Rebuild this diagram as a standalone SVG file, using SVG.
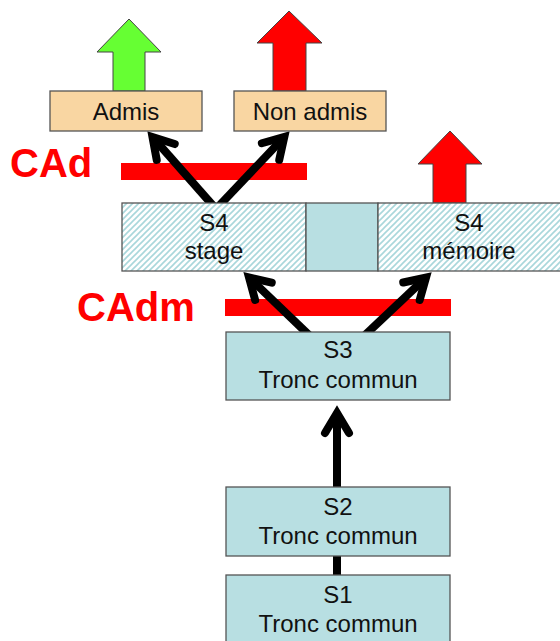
<svg xmlns="http://www.w3.org/2000/svg" width="560" height="641" viewBox="0 0 560 641">
<defs>
<style>
.box{stroke:#555;stroke-width:1.3}
.blue{fill:#B8DFE2}
.beige{fill:#F9D6A2}
.hatch{fill:url(#hatch)}
.t{font-family:"Liberation Sans",Arial,sans-serif;font-size:24px;fill:#111;text-anchor:middle}
.ca{font-family:"Liberation Sans",Arial,sans-serif;font-size:40px;font-weight:bold;fill:#FF0000}
.bar{fill:#FF0000}
.blk{stroke:#444;stroke-width:1}
.line{fill:none;stroke:#000;stroke-width:8}
.conn{fill:none;stroke:#000;stroke-width:8;marker-end:url(#ah)}
</style>
<pattern id="hatch" patternUnits="userSpaceOnUse" width="6" height="6">
<rect width="6" height="6" fill="#FFFFFF"/>
<path d="M-1,7 L7,-1 M-4,4 L4,-4 M2,10 L10,2" stroke="#A9D7DB" stroke-width="1.6"/>
</pattern>
<marker id="ah" markerUnits="userSpaceOnUse" orient="auto" refX="0" refY="0" markerWidth="40" markerHeight="40" viewBox="-30 -20 40 40" overflow="visible">
<path d="M-20,-12 L0,0 L-20,12" fill="none" stroke="#000" stroke-width="8" stroke-linecap="round" stroke-linejoin="miter"/>
</marker>
</defs>
<rect width="560" height="641" fill="#FFFFFF"/>

<g id="outcome-arrows">
<polygon class="blk" points="113,91 113,52 97,52 129,19 161,52 145,52 145,91" fill="#66FF33"/>
<polygon class="blk" points="273,91 273,43 257,43 289,11 322,43 306,43 306,91" fill="#FF0000"/>
<polygon class="blk" points="433,203 433,164 418,164 450,131 482,164 466,164 466,203" fill="#FF0000"/>
</g>

<g id="CAd">
<text class="ca" x="10" y="177">CAd</text>
<rect class="bar" x="121" y="163" width="186" height="17"/>
</g>
<g id="CAdm">
<text class="ca" x="77" y="321">CAdm</text>
<rect class="bar" x="225" y="299" width="226" height="17"/>
</g>

<g id="connectors">
<path class="line" d="M337,576 L337,555"/>
<path class="conn" d="M337,487 L337,413"/>
<path class="conn" d="M311,337 L249,277.5"/>
<path class="conn" d="M363,337 L426,277.5"/>
<path class="conn" d="M216,209 L152.5,137"/>
<path class="conn" d="M216,209 L284.3,137"/>
</g>

<g id="admis">
<rect class="box beige" x="50" y="91" width="152" height="40"/>
<text class="t" x="126" y="120">Admis</text>
</g>
<g id="non-admis">
<rect class="box beige" x="234" y="91" width="152" height="40"/>
<text class="t" x="310" y="120">Non admis</text>
</g>

<g id="S4-stage">
<rect class="box hatch" x="122" y="203" width="184" height="68"/>
<text class="t" x="214" y="231">S4</text>
<text class="t" x="214" y="259">stage</text>
</g>
<g id="S4-middle">
<rect class="box blue" x="306" y="203" width="72" height="68"/>
</g>
<g id="S4-memoire">
<rect class="box hatch" x="378" y="203" width="186" height="68"/>
<text class="t" x="469" y="231">S4</text>
<text class="t" x="469" y="259">mémoire</text>
</g>

<g id="S3">
<rect class="box blue" x="226" y="332" width="224" height="68"/>
<text class="t" x="338" y="358">S3</text>
<text class="t" x="338" y="388">Tronc commun</text>
</g>
<g id="S2">
<rect class="box blue" x="226" y="487" width="224" height="69"/>
<text class="t" x="338" y="515">S2</text>
<text class="t" x="338" y="544">Tronc commun</text>
</g>
<g id="S1">
<rect class="box blue" x="226" y="575" width="224" height="70"/>
<text class="t" x="338" y="603">S1</text>
<text class="t" x="338" y="632">Tronc commun</text>
</g>
</svg>
